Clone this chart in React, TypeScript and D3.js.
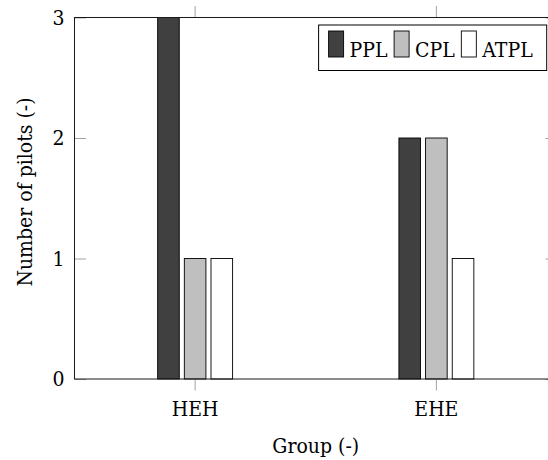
import { useEffect, useRef } from 'react'
import * as d3 from 'd3'

const groups = ['HEH', 'EHE']
const seriesNames = ['PPL', 'CPL', 'ATPL']
const pplValues = [3, 2]
const cplValues = [1, 2]
const atplValues = [1, 1]
const yTicks = [0, 1, 2, 3]

const SERIES_COLORS: Record<string, string> = {
  PPL: '#404040',
  CPL: '#bfbfbf',
  ATPL: '#ffffff',
}

const FONT = '"DejaVu Serif Condensed", "DejaVu Serif", serif'
const FONT_SIZE = 21

export default function App() {
  const svgRef = useRef<SVGSVGElement>(null)

  useEffect(() => {
    if (!svgRef.current) return
    const svg = d3.select(svgRef.current)
    svg.selectAll('*').remove()

    const width = 548
    const height = 460
    // plot frame (right edge falls just outside the picture)
    const left = 74.5
    const right = 557
    const top = 17.5
    const bottom = 379

    svg.attr('width', width).attr('height', height)

    const x = d3.scaleBand<string>().domain(groups).range([left, right]).padding(0)
    const xInner = d3
      .scaleBand<string>()
      .domain(seriesNames)
      .range([-40, 40])
      .paddingInner(0.19)
      .paddingOuter(0.095)
    const y = d3.scaleLinear().domain([0, 3]).range([bottom, top])

    const values: Record<string, number[]> = {
      PPL: pplValues,
      CPL: cplValues,
      ATPL: atplValues,
    }

    const rows = groups.flatMap((g, i) =>
      seriesNames.map(s => ({ group: g, series: s, value: values[s][i] }))
    )

    // bars
    svg
      .append('g')
      .selectAll('rect')
      .data(rows)
      .enter()
      .append('rect')
      .attr('x', d => (x(d.group) as number) + x.bandwidth() / 2 + (xInner(d.series) as number))
      .attr('y', d => y(d.value))
      .attr('width', xInner.bandwidth())
      .attr('height', d => y(0) - y(d.value))
      .attr('fill', d => SERIES_COLORS[d.series])
      .attr('stroke', '#000')
      .attr('stroke-width', 0.9)

    const tickColor = '#8c8c8c'
    const styleAxis = (g: d3.Selection<SVGGElement, unknown, null, undefined>) => {
      g.select('.domain').remove()
      g.selectAll('.tick line').attr('stroke', tickColor).attr('stroke-width', 0.8)
      g.selectAll('.tick text')
        .attr('fill', '#000')
        .attr('font-family', FONT)
        .attr('font-size', FONT_SIZE)
    }

    // y axis left (ticks inward, labels outside)
    svg
      .append('g')
      .attr('transform', `translate(${left},0)`)
      .call(d3.axisLeft(y).tickValues(yTicks).tickFormat(d3.format('d')).tickSize(-11.5).tickPadding(10))
      .call(styleAxis)

    // y axis right
    svg
      .append('g')
      .attr('transform', `translate(${right},0)`)
      .call(d3.axisRight(y).tickValues(yTicks).tickFormat(() => '').tickSize(-11.5))
      .call(styleAxis)

    // x axis bottom
    svg
      .append('g')
      .attr('transform', `translate(0,${bottom})`)
      .call(d3.axisBottom(x).tickSize(11.5).tickPadding(11))
      .call(styleAxis)

    // x axis top
    svg
      .append('g')
      .attr('transform', `translate(0,${top})`)
      .call(d3.axisTop(x).tickFormat(() => '').tickSize(11.5))
      .call(styleAxis)

    // frame
    svg
      .append('rect')
      .attr('x', left)
      .attr('y', top)
      .attr('width', right - left)
      .attr('height', bottom - top)
      .attr('fill', 'none')
      .attr('stroke', '#1a1a1a')
      .attr('stroke-width', 1)

    // axis labels
    svg
      .append('text')
      .attr('x', (left + right) / 2)
      .attr('y', 453)
      .attr('text-anchor', 'middle')
      .attr('font-family', FONT)
      .attr('font-size', FONT_SIZE)
      .text('Group (-)')

    svg
      .append('text')
      .attr('transform', `translate(31.5,192) rotate(-90)`)
      .attr('text-anchor', 'middle')
      .attr('font-family', FONT)
      .attr('font-size', FONT_SIZE)
      .text('Number of pilots (-)')

    // legend
    const legendRight = 546.7
    const legendTop = 25
    const legendBottom = 70.5
    const legend = svg.append('g')
    const box = legend
      .append('rect')
      .attr('y', legendTop)
      .attr('height', legendBottom - legendTop)
      .attr('fill', '#fff')
      .attr('stroke', '#000')
      .attr('stroke-width', 1)

    const items = legend.append('g')
    let cx = 0
    seriesNames.forEach(s => {
      items
        .append('rect')
        .attr('x', cx)
        .attr('y', 31)
        .attr('width', 15)
        .attr('height', 26)
        .attr('fill', SERIES_COLORS[s])
        .attr('stroke', '#000')
        .attr('stroke-width', 0.9)
      cx += 15 + 6
      const t = items
        .append('text')
        .attr('x', cx)
        .attr('y', 56.5)
        .attr('font-family', FONT)
        .attr('font-size', FONT_SIZE)
        .text(s)
      cx += (t.node() as SVGTextElement).getComputedTextLength() + 6.5
    })
    const contentW = cx - 6.5
    const padL = 10
    const padR = 14
    const boxW = contentW + padL + padR
    box.attr('x', legendRight - boxW).attr('width', boxW)
    items.attr('transform', `translate(${legendRight - boxW + padL},0)`)
  }, [])

  return (
    <div style={{ position: 'absolute', left: 0, top: 0, width: 548, height: 460, overflow: 'hidden', background: '#fff' }}>
      <svg ref={svgRef} style={{ display: 'block' }}></svg>
    </div>
  )
}
